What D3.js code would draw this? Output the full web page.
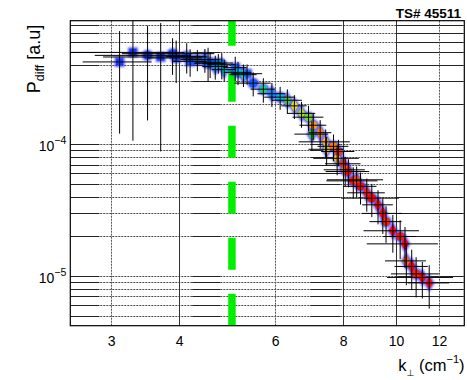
<!DOCTYPE html>
<html>
<head>
<meta charset="utf-8">
<script src="https://cdn.jsdelivr.net/npm/d3@7"></script>
<style>
  body { margin: 0; background: #fff; }
  svg { display: block; }
  text { font-family: "Liberation Sans", Arial, Helvetica, sans-serif; fill: #000; }
</style>
</head>
<body>
<svg id="chart" width="467" height="380"></svg>
<script>
// Measured spectrum: k_perp [cm^-1], P_diff [a.u], their errors, palette index and marker type
const kVals = [
  3.11, 3.29, 3.50, 3.70, 3.89, 3.95, 4.13, 4.19, 4.32, 4.46,
  4.52, 4.56, 4.66, 4.72, 4.79, 4.84, 5.07, 5.13, 5.25, 5.33,
  5.47, 5.71, 5.92, 6.13, 6.32, 6.51, 6.71, 6.91, 7.01, 7.05,
  7.26, 7.43, 7.46, 7.68, 7.80, 7.84, 8.01, 8.07, 8.18, 8.35,
  8.47, 8.61, 8.84, 9.03, 9.27, 9.46, 9.59, 9.87, 10.18, 10.39,
  10.45, 10.69, 10.89, 11.18, 11.51
];
const pVals = [
  4.20e-4, 4.96e-4, 4.71e-4, 4.58e-4, 4.85e-4, 4.50e-4, 4.63e-4, 4.24e-4, 4.37e-4, 4.37e-4,
  4.18e-4, 4.07e-4, 3.88e-4, 4.12e-4, 4.00e-4, 3.67e-4, 3.80e-4, 3.50e-4, 3.36e-4, 3.42e-4,
  2.90e-4, 2.61e-4, 2.41e-4, 2.27e-4, 2.15e-4, 1.95e-4, 1.71e-4, 1.60e-4, 1.19e-4, 1.39e-4,
  1.22e-4, 1.04e-4, 0.913e-4, 0.962e-4, 0.780e-4, 0.879e-4, 0.709e-4, 0.638e-4, 0.619e-4, 0.526e-4,
  0.536e-4, 0.478e-4, 0.427e-4, 0.389e-4, 0.346e-4, 0.298e-4, 0.258e-4, 0.220e-4, 0.199e-4, 0.175e-4,
  0.130e-4, 0.118e-4, 0.1036e-4, 0.0974e-4, 0.0885e-4
];
const kErr = [
  0.45, 0.80, 0.70, 0.80, 0.75, 0.45, 0.35, 0.30, 0.30, 0.30,
  0.25, 0.30, 0.25, 0.30, 0.28, 0.25, 0.25, 0.30, 0.30, 0.35,
  0.42, 0.30, 0.35, 0.40, 0.40, 0.35, 0.40, 0.45, 0.50, 0.40,
  0.35, 0.80, 0.55, 0.50, 0.75, 0.55, 0.60, 0.70, 0.75, 0.90,
  1.00, 0.60, 0.70, 1.10, 0.60, 0.80, 0.65, 1.15, 0.70, 1.55,
  0.90, 0.75, 1.10, 1.55, 1.00
];
const pErr = [
  3.0e-4, 3.9e-4, 3.2e-4, 3.7e-4, 1.5e-4, 1.6e-4, 1.2e-4, 1.0e-4, 0.8e-4, 0.9e-4,
  1.2e-4, 0.9e-4, 0.8e-4, 0.7e-4, 0.9e-4, 0.7e-4, 0.8e-4, 0.7e-4, 0.65e-4, 0.6e-4,
  0.6e-4, 0.55e-4, 0.5e-4, 0.45e-4, 0.45e-4, 0.4e-4, 0.38e-4, 0.35e-4, 0.3e-4, 0.32e-4,
  0.3e-4, 0.25e-4, 0.22e-4, 0.22e-4, 0.2e-4, 0.2e-4, 0.17e-4, 0.16e-4, 0.15e-4, 0.14e-4,
  0.14e-4, 0.13e-4, 0.12e-4, 0.11e-4, 0.10e-4, 0.09e-4, 0.08e-4, 0.07e-4, 0.065e-4, 0.06e-4,
  0.045e-4, 0.04e-4, 0.035e-4, 0.03e-4, 0.032e-4
];
const paletteIdx = [
  0.02, 0.02, 0.04, 0.03, 0.06, 0.05, 0.10, 0.08, 0.18, 0.15,
  0.22, 0.12, 0.25, 0.20, 0.28, 0.32, 0.12, 0.30, 0.38, 0.15,
  0.10, 0.42, 0.20, 0.30, 0.52, 0.62, 0.58, 0.55, 0.50, 0.76,
  0.80, 0.70, 0.64, 0.82, 0.70, 0.92, 0.95, 0.85, 1.00, 0.97,
  0.90, 1.00, 0.95, 1.00, 0.98, 1.00, 0.95, 1.00, 0.97, 1.00,
  0.85, 1.00, 0.95, 1.00, 0.98
];
const markerType = [
  "s", "s", "c", "s", "c", "s", "c", "s", "c", "d",
  "s", "c", "d", "s", "c", "d", "s", "c", "d", "s",
  "c", "c", "d", "c", "d", "d", "d", "c", "d", "c",
  "d", "d", "d", "c", "d", "c", "d", "c", "d", "c",
  "d", "c", "d", "c", "d", "d", "c", "d", "c", "d",
  "d", "d", "c", "d", "d"
];

// Axis labels and reference values
const xTickValues = [3, 4, 6, 8, 10, 12];
const yLabelValues = [1e-5, 1e-4];
const kCut = 5;
const shotLabel = "TS# 45511";

const svg = d3.select("#chart");
const frame = { left: 70.3, right: 464.3, top: 20.7, bottom: 325.7 };

const x = d3.scaleLog().domain([2.525, 13.35]).range([frame.left, frame.right]);
const y = d3.scaleLog().domain([4.19e-6, 8.63e-4]).range([frame.bottom, frame.top]);

const color = d3.scaleLinear()
  .domain([0, 0.2, 0.35, 0.5, 0.62, 0.78, 1])
  .range(["#1234ff", "#0a8cff", "#00d2c8", "#2cc83c", "#e6e600", "#ff9400", "#ff0000"]);

const defs = svg.append("defs");
defs.append("clipPath").attr("id", "plotClip")
  .append("rect")
  .attr("x", frame.left).attr("y", frame.top)
  .attr("width", frame.right - frame.left).attr("height", frame.bottom - frame.top);
defs.append("filter").attr("id", "halo")
  .attr("x", "-50%").attr("y", "-50%").attr("width", "200%").attr("height", "200%")
  .append("feGaussianBlur").attr("stdDeviation", 0.8);

// ---- grid ----
const grid = svg.append("g");
const yGrid = y.ticks();
// dotted horizontal lines, with longer solid stretches along each line
grid.selectAll("line.hdot").data(yGrid).join("line")
  .attr("x1", frame.left).attr("x2", frame.right)
  .attr("y1", d => Math.round(y(d)) + 0.5).attr("y2", d => Math.round(y(d)) + 0.5)
  .attr("stroke", "#4a4a4a").attr("stroke-width", 1).attr("stroke-dasharray", "2,1");
grid.selectAll("line.hsolid").data(yGrid).join("line")
  .attr("x1", frame.left).attr("x2", frame.right)
  .attr("y1", d => Math.round(y(d)) + 0.5).attr("y2", d => Math.round(y(d)) + 0.5)
  .attr("stroke", "#222").attr("stroke-width", 1)
  .attr("stroke-dasharray", "29,93,28,90,30,57,66");

const solidVertical = [4, 8, 10];
grid.selectAll("line.v").data(xTickValues).join("line")
  .attr("x1", d => Math.round(x(d)) + 0.5).attr("x2", d => Math.round(x(d)) + 0.5)
  .attr("y1", frame.top).attr("y2", frame.bottom)
  .attr("stroke", d => solidVertical.includes(d) ? "#333" : "#555")
  .attr("stroke-width", 1)
  .attr("stroke-dasharray", d => solidVertical.includes(d) ? null : "2,1");

// ---- cut position ----
svg.append("line")
  .attr("x1", x(kCut)).attr("x2", x(kCut))
  .attr("y1", frame.bottom).attr("y2", frame.top)
  .attr("stroke", "#00ee00").attr("stroke-width", 7.5)
  .attr("stroke-dasharray", "32,24");

// ---- data ----
const data = kVals.map((k, i) => ({
  k, p: pVals[i], dk: kErr[i], dp: pErr[i], c: paletteIdx[i], m: markerType[i]
}));
const symType = { s: d3.symbolSquare, c: d3.symbolCircle, d: d3.symbolDiamond };
const symSize = { s: 50, c: 52, d: 50 };

const plot = svg.append("g").attr("clip-path", "url(#plotClip)");

plot.append("g").selectAll("path").data(data).join("path")
  .attr("transform", d => `translate(${x(d.k)},${y(d.p)})`)
  .attr("d", d => d3.symbol(symType[d.m], symSize[d.m] * 2.0)())
  .attr("fill", "#3a3aff").attr("opacity", 0.85)
  .attr("filter", "url(#halo)");

plot.append("g").selectAll("path").data(data).join("path")
  .attr("transform", d => `translate(${x(d.k)},${y(d.p)})`)
  .attr("d", d => d3.symbol(symType[d.m], symSize[d.m])())
  .attr("fill", d => color(d.c));

const yLow = v => (v > 0 ? y(v) : frame.bottom + 5);
const err = plot.append("g").attr("stroke", "#000").attr("stroke-width", 1);
err.selectAll("line.ex").data(data).join("line")
  .attr("x1", d => x(Math.max(d.k - d.dk, 1))).attr("x2", d => x(d.k + d.dk))
  .attr("y1", d => y(d.p)).attr("y2", d => y(d.p));
err.selectAll("line.ey").data(data).join("line")
  .attr("x1", d => x(d.k)).attr("x2", d => x(d.k))
  .attr("y1", d => yLow(d.p - d.dp)).attr("y2", d => y(d.p + d.dp));

// ---- frame ----
svg.append("rect")
  .attr("x", frame.left).attr("y", frame.top)
  .attr("width", frame.right - frame.left).attr("height", frame.bottom - frame.top)
  .attr("fill", "none").attr("stroke", "#000").attr("stroke-width", 1.2);

// ---- axes ----
const xAxis = svg.append("g")
  .attr("transform", `translate(0,${frame.bottom})`)
  .call(d3.axisBottom(x).tickValues(xTickValues).tickSize(0).tickPadding(10)
    .tickFormat(d3.format("d")));
xAxis.select(".domain").remove();
xAxis.selectAll("text").attr("font-size", 14).attr("font-family", null);

const yAxis = svg.append("g")
  .attr("transform", `translate(${frame.left},0)`)
  .call(d3.axisLeft(y).tickValues(yLabelValues).tickSize(0).tickPadding(4).tickFormat(""));
yAxis.select(".domain").remove();
yAxis.selectAll(".tick text")
  .attr("font-size", 14).attr("font-family", null).attr("dy", "0.45em")
  .each(function (d) {
    const t = d3.select(this);
    t.append("tspan").text("10");
    t.append("tspan").attr("dy", -7).attr("font-size", 10.5)
      .text("\u2212" + Math.round(-Math.log10(d)));
  });

// ---- titles ----
const yTitle = svg.append("text")
  .attr("transform", "translate(40,59) rotate(-90)")
  .attr("text-anchor", "middle").attr("font-size", 18);
yTitle.append("tspan").text("P");
yTitle.append("tspan").attr("dy", 4).attr("font-size", 12.5).text("diff");
yTitle.append("tspan").attr("dy", -4).text(" [a.u]");

const xTitle = svg.append("text")
  .attr("x", 464.5).attr("y", 371)
  .attr("text-anchor", "end").attr("font-size", 16.5);
xTitle.append("tspan").text("k");
xTitle.append("tspan").attr("dy", 5).attr("font-size", 9)
  .attr("font-family", "DejaVu Sans, sans-serif").text("\u22A5");
xTitle.append("tspan").attr("dy", -5).text(" (cm");
xTitle.append("tspan").attr("dy", -8).attr("font-size", 11).text("\u22121");
xTitle.append("tspan").attr("dy", 8).text(")");

svg.append("text")
  .attr("x", 461).attr("y", 18)
  .attr("text-anchor", "end").attr("font-size", 13.5).attr("font-weight", "bold")
  .text(shotLabel);
</script>
</body>
</html>
